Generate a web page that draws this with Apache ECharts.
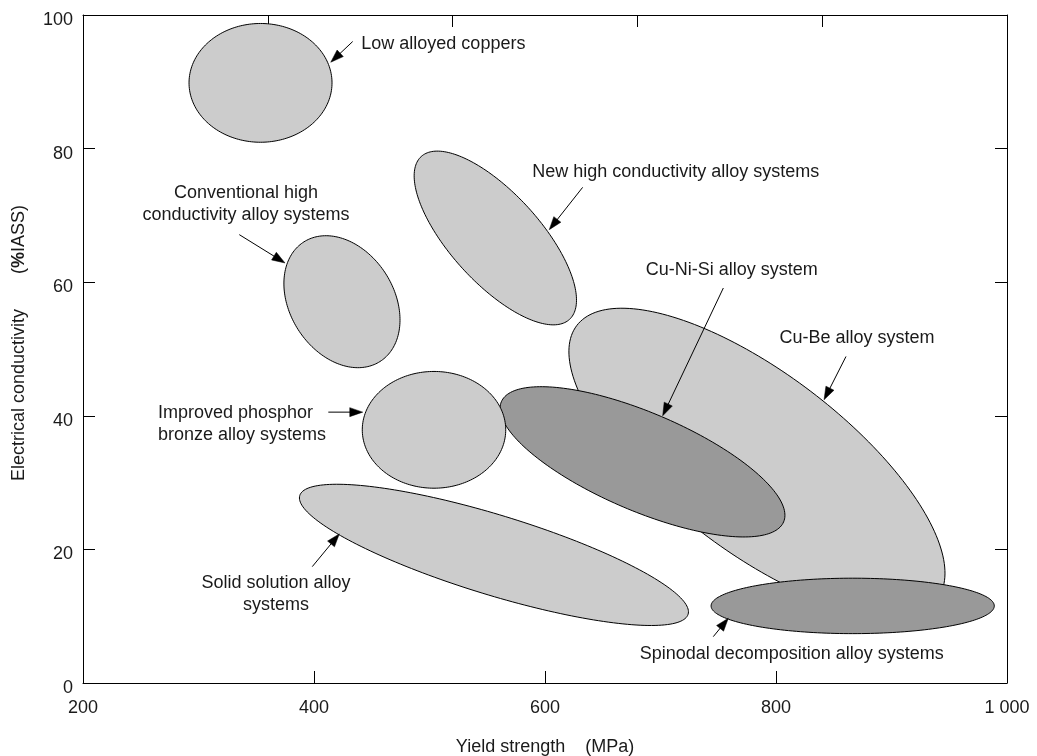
<!DOCTYPE html>
<html><head><meta charset="utf-8">
<script src="https://cdn.jsdelivr.net/npm/echarts@6/dist/echarts.min.js"></script>
<style>html,body{margin:0;padding:0;background:#fff}#c{width:1037px;height:756px}</style>
</head><body><div id="c"></div>
<script>
// ---- Ellipse regions (data units: MPa, %IACS) ----
// Each region: centre, tip of first semi-axis, tip of second (conjugate) semi-axis
const regionNames = ['Cu-Be', 'Cu-Ni-Si', 'Improved phosphor bronze', 'Spinodal decomposition',
  'Low alloyed coppers', 'Conventional high conductivity', 'New high conductivity', 'Solid solution'];
const centerX = [783.5, 684.4, 503.9, 866.4, 353.7, 424.2, 557.0, 555.8];
const centerY = [33.03, 33.11, 37.90, 11.54, 89.84, 57.08, 66.62, 19.18];
const axisAX  = [939.5, 806.6, 566.0, 989.0, 415.6, 457.1, 621.2, 723.9];
const axisAY  = [12.55, 24.12, 37.90, 11.54, 89.84, 48.12, 54.43, 10.29];
const axisBX  = [830.1, 701.0, 503.9, 866.4, 353.7, 462.2, 585.6, 566.0];
const axisBY  = [43.66, 39.87, 46.64, 15.69, 98.73, 61.24, 71.15, 24.90];
const shadeGroup = ['light', 'dark', 'light', 'dark', 'light', 'light', 'light', 'light'];

// ---- Annotation labels (data units) ----
const labelText = ['Low alloyed coppers', 'New high conductivity alloy systems', 'Cu-Ni-Si alloy system',
  'Cu-Be alloy system', 'Spinodal decomposition alloy systems', 'Solid solution alloy\nsystems',
  'Improved phosphor\nbronze alloy systems', 'Conventional high\nconductivity alloy systems'];
const labelX = [512.0, 713.2, 761.6, 870.1, 813.6, 367.1, 264.9, 341.1];
const labelY = [95.58, 76.55, 61.87, 51.64, 4.30, 13.29, 38.77, 71.73];
const labelAlign = ['center', 'center', 'center', 'center', 'center', 'center', 'left', 'center'];

// ---- Arrows (data units) ----
const arrowFromX = [433.5, 632.6, 754.4, 860.6, 745.7, 398.5, 412.4, 335.3];
const arrowFromY = [96.03, 74.2, 59.13, 48.88, 6.94, 17.42, 40.55, 67.12];
const arrowToX   = [414.5, 603.7, 701.9, 841.6, 758.7, 421.9, 442.2, 374.9];
const arrowToY   = [92.93, 67.87, 40.0, 42.40, 9.69, 22.32, 40.55, 62.88];

// ---- Axis ticks ----
const xTickValues = [200, 400, 600, 800, 1000];
const xTickLabels = ['200', '400', '600', '800', '1 000'];
const yTickValues = [0, 20, 40, 60, 80, 100];
const yTickLabels = ['0', '20', '40', '60', '80', '100'];

const FONT = '"Liberation Sans", Arial, Helvetica, sans-serif';
const TXT = '#1a1a1a';
const shadeColor = { light: '#cccccc', dark: '#999999' };

const ellipseData = regionNames.map((n, i) => [centerX[i], centerY[i], axisAX[i], axisAY[i], axisBX[i], axisBY[i]]);
const labelData = labelText.map((t, i) => [labelX[i], labelY[i]]);
const arrowData = arrowFromX.map((v, i) => [arrowFromX[i], arrowFromY[i], arrowToX[i], arrowToY[i]]);

function renderEllipse(params, api) {
  const cx = api.value(0), cy = api.value(1);
  const ux = api.value(2) - cx, uy = api.value(3) - cy;
  const vx = api.value(4) - cx, vy = api.value(5) - cy;
  const pts = [];
  const N = 200;
  for (let k = 0; k < N; k++) {
    const t = k / N * Math.PI * 2;
    const c = Math.cos(t), s = Math.sin(t);
    pts.push(api.coord([cx + ux * c + vx * s, cy + uy * c + vy * s]));
  }
  return {
    type: 'polygon', shape: { points: pts },
    style: { fill: shadeColor[shadeGroup[params.dataIndex]], stroke: '#000', lineWidth: 1 }
  };
}

function renderArrow(params, api) {
  const p0 = api.coord([api.value(0), api.value(1)]);
  const p1 = api.coord([api.value(2), api.value(3)]);
  const dx = p1[0] - p0[0], dy = p1[1] - p0[1];
  const L = Math.sqrt(dx * dx + dy * dy);
  const ex = dx / L, ey = dy / L;
  const hl = 13, hw = 4.5;
  const bx = p1[0] - ex * hl, by = p1[1] - ey * hl;
  return {
    type: 'group', children: [
      { type: 'line', shape: { x1: p0[0], y1: p0[1], x2: bx + ex * 2, y2: by + ey * 2 },
        style: { stroke: '#000', lineWidth: 1 } },
      { type: 'polygon', shape: { points: [[p1[0], p1[1]], [bx - ey * hw, by + ex * hw], [bx + ey * hw, by - ex * hw]] },
        style: { fill: '#000', stroke: '#000', lineWidth: 0.5 } }
    ]
  };
}

function renderLabel(params, api) {
  const p = api.coord([api.value(0), api.value(1)]);
  const al = labelAlign[params.dataIndex];
  return {
    type: 'text', x: p[0], y: p[1],
    style: { text: labelText[params.dataIndex], fill: TXT, font: '18px ' + FONT,
      align: al, textAlign: al, verticalAlign: 'middle', textVerticalAlign: 'middle', lineHeight: 22 }
  };
}

const axisLineStyle = { color: '#000', width: 1 };
const chart = echarts.init(document.getElementById('c'), null, { renderer: 'canvas' });
chart.setOption({
  backgroundColor: '#fff',
  animation: false,
  grid: { left: 83, right: 30, top: 15, bottom: 73, containLabel: false, outerBoundsMode: 'none' },
  xAxis: [
    { type: 'value', min: 200, max: 1000, interval: 200, position: 'bottom',
      axisLine: { show: true, onZero: false, lineStyle: axisLineStyle },
      axisTick: { show: true, inside: true, length: 12, lineStyle: axisLineStyle },
      axisLabel: { margin: 16, fontSize: 18, fontFamily: FONT, color: TXT,
        formatter: v => { const i = xTickValues.indexOf(v); return i >= 0 ? xTickLabels[i] : ''; } },
      splitLine: { show: false },
      name: 'Yield strength    (MPa)', nameLocation: 'middle', nameGap: 55,
      nameTextStyle: { fontSize: 18, fontFamily: FONT, color: TXT } },
    { type: 'value', min: 0, max: 800, interval: 160, position: 'top',
      axisLine: { show: true, onZero: false, lineStyle: axisLineStyle },
      axisTick: { show: true, inside: true, length: 12, lineStyle: axisLineStyle },
      axisLabel: { show: false }, splitLine: { show: false } }
  ],
  yAxis: [
    { type: 'value', min: 0, max: 100, interval: 20, position: 'left',
      axisLine: { show: true, onZero: false, lineStyle: axisLineStyle },
      axisTick: { show: true, inside: true, length: 12, lineStyle: axisLineStyle },
      axisLabel: { margin: 10, fontSize: 18, fontFamily: FONT, color: TXT, verticalAlign: 'top', lineHeight: 10,
        formatter: v => { const i = yTickValues.indexOf(v); return i >= 0 ? yTickLabels[i] : ''; } },
      splitLine: { show: false },
      name: 'Electrical conductivity       ({b|%}IASS)', nameLocation: 'middle', nameGap: 55,
      nameTextStyle: { fontSize: 18, fontFamily: FONT, color: TXT, padding: [0, 0, 0, 12],
        rich: { b: { fontSize: 18, fontFamily: FONT, fontWeight: 'bold', color: TXT } } } },
    { type: 'value', min: 0, max: 100, interval: 20, position: 'right',
      axisLine: { show: true, onZero: false, lineStyle: axisLineStyle },
      axisTick: { show: true, inside: true, length: 12, lineStyle: axisLineStyle },
      axisLabel: { show: false }, splitLine: { show: false } }
  ],
  series: [
    { type: 'custom', name: 'regions', xAxisIndex: 0, yAxisIndex: 0, renderItem: renderEllipse,
      data: ellipseData, silent: true, z: 2 },
    { type: 'custom', name: 'arrows', xAxisIndex: 0, yAxisIndex: 0, renderItem: renderArrow,
      data: arrowData, silent: true, z: 3 },
    { type: 'custom', name: 'labels', xAxisIndex: 0, yAxisIndex: 0, renderItem: renderLabel,
      data: labelData, silent: true, z: 4 }
  ]
});
</script>
</body></html>
